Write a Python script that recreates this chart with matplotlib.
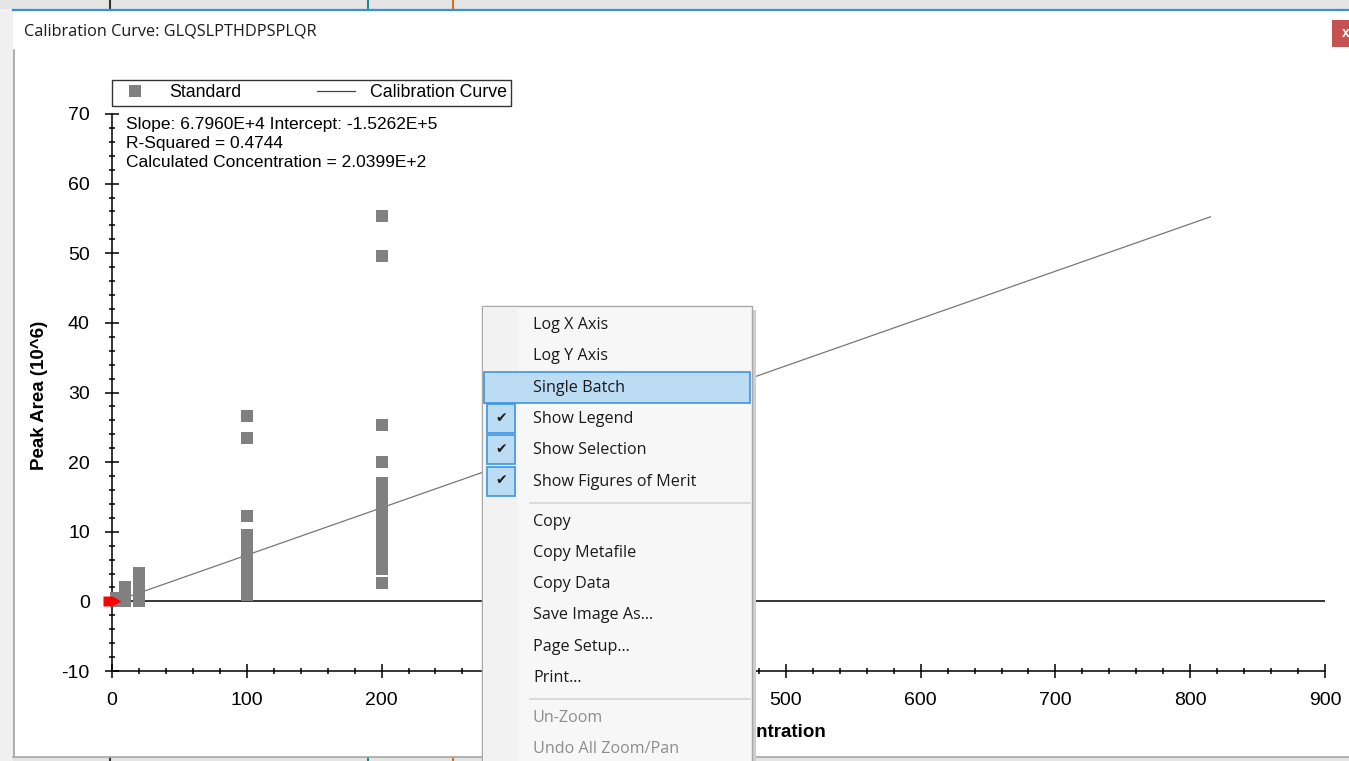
import numpy as np
import matplotlib.pyplot as plt
from matplotlib.patches import Rectangle
from matplotlib.ticker import MultipleLocator

plt.rcParams['font.family'] = ['Liberation Sans', 'DejaVu Sans']
plt.rcParams['axes.unicode_minus'] = False

W, H = 1349, 761

# standard levels and the replicate peak areas measured at each (x10^6)
levels = [3, 10, 20, 100, 200]
areas_3 = [0.1, 0.5]
areas_10 = [0.1, 0.8, 1.5, 2.1]
areas_20 = [0.0, 0.8, 1.6, 2.4, 3.3, 4.1]
areas_100 = [26.6, 23.5, 12.2, 9.6, 8.7, 7.8, 6.9, 6.0, 5.2, 4.3, 3.5, 2.6, 1.7, 0.9]
areas_200 = [55.3, 49.6, 25.4, 20.0, 17.0, 16.1, 15.2, 14.3, 13.4, 12.5, 11.6,
             10.7, 9.8, 8.9, 8.0, 7.1, 6.3, 5.5, 4.7, 2.6]
level_areas = [areas_3, areas_10, areas_20, areas_100, areas_200]

# regression results
slope = 6.7960e4
intercept = -1.5262e5
r_squared = 0.4744
calc_conc = 2.0399e2
fit_range = [3, 815]
selection = [0, 0]

title = 'Calibration Curve: GLQSLPTHDPSPLQR'
menu_items = ['Log X Axis', 'Log Y Axis', 'Single Batch', 'Show Legend',
              'Show Selection', 'Show Figures of Merit', 'Copy', 'Copy Metafile',
              'Copy Data', 'Save Image As...', 'Page Setup...', 'Print...',
              'Un-Zoom', 'Undo All Zoom/Pan']
menu_checked = ['Show Legend', 'Show Selection', 'Show Figures of Merit']
menu_disabled = ['Un-Zoom', 'Undo All Zoom/Pan']
menu_hot = 'Single Batch'
menu_breaks = ['Show Figures of Merit', 'Print...']


def sci(v):
    m, e = f'{v:.4E}'.split('E')
    return f'{m}E{int(e):+d}'


fig = plt.figure(figsize=(W / 100, H / 100), dpi=100, facecolor='white')

# window chrome behind the plot, in pixel units
bg = fig.add_axes([0, 0, 1, 1], zorder=0)
bg.set_xlim(0, W)
bg.set_ylim(H, 0)
bg.axis('off')
bg.add_patch(Rectangle((0, 0), W, 9, color='#e4e4e4', lw=0))
bg.add_patch(Rectangle((0, 757), W, 4, color='#e4e4e4', lw=0))
bg.add_patch(Rectangle((0, 9), 13, H, color='#f0f0f0', lw=0))
for xm, c in [(110, '#333333'), (368, '#1a8a8a'), (453, '#d07020')]:
    bg.plot([xm, xm], [0, 8], color=c, lw=1.5)
    bg.plot([xm, xm], [758, 761], color=c, lw=1.5)
bg.plot([13, W], [9.5, 9.5], color='#3a8fd8', lw=1.6)
bg.plot([13.5, 13.5], [50, 757], color='#a0a0a0', lw=1.2)
bg.plot([13, W], [757, 757], color='#a8a8a8', lw=1.2)
bg.text(24, 32, title, fontsize=11.7, family='Open Sans', color='#1a1a1a',
        ha='left', va='center')
bg.add_patch(Rectangle((1332, 20), 20, 27, color='#c75050', lw=0))
bg.text(1346, 33, 'x', fontsize=10, color='white', ha='center', va='center',
        fontweight='bold')

# calibration plot
ax = fig.add_axes([112 / W, (H - 671) / H, 1213 / W, 557 / H], zorder=1)
ax.patch.set_alpha(0)
ax.set_xlim(0, 900)
ax.set_ylim(-10, 70)
for side in ['top', 'right']:
    ax.spines[side].set_visible(False)
for side in ['left', 'bottom']:
    ax.spines[side].set_linewidth(1.1)
ax.xaxis.set_major_locator(MultipleLocator(100))
ax.xaxis.set_minor_locator(MultipleLocator(20))
ax.yaxis.set_major_locator(MultipleLocator(10))
ax.yaxis.set_minor_locator(MultipleLocator(2))
ax.tick_params(which='major', direction='inout', length=10, width=1.1, labelsize=14)
ax.tick_params(which='minor', direction='inout', length=5, width=1.1)
ax.tick_params(axis='x', which='major', pad=10)
ax.tick_params(axis='y', which='major', pad=11)

ax.axhline(0, color='black', lw=1.1, zorder=1)

fx = np.array(fit_range, dtype=float)
ax.plot(fx, (slope * fx + intercept) / 1e6, color='#777777', lw=0.9, zorder=2,
        label='Calibration Curve')

for i, (lvl, vals) in enumerate(zip(levels, level_areas)):
    ax.plot([lvl] * len(vals), vals, ls='none', marker='s', ms=8, mew=0,
            color='#808080', zorder=3, clip_on=False,
            label='Standard' if i == 0 else None)

arrow = [(-1, -0.55), (0, -0.55), (1, 0), (0, 0.55), (-1, 0.55)]
ax.plot(selection[0], selection[1], marker=arrow, ms=13, mew=0, color='#ff0000',
        zorder=4, clip_on=False)

handles, labels = ax.get_legend_handles_labels()
leg = ax.legend(handles[::-1], labels[::-1], ncol=2, loc='lower left',
                bbox_to_anchor=(0, 1.015), borderaxespad=0, fontsize=12.8,
                frameon=True, fancybox=False, edgecolor='black', borderpad=0.25,
                handlelength=2.1, handletextpad=0.85, columnspacing=4.3)
leg.get_frame().set_linewidth(1.0)
leg.legend_handles[1].set_color('#444444')

merit = (f'Slope: {sci(slope)} Intercept: {sci(intercept)}\n'
         f'R-Squared = {r_squared:.4f}\n'
         f'Calculated Concentration = {sci(calc_conc)}')
ax.text(14 / 1213, (671 - 117) / 557, merit, transform=ax.transAxes,
        fontsize=12.5, ha='left', va='top', linespacing=1.34)

ax.set_xlabel('Concentration', fontsize=13.5, fontweight='bold', ha='right')
ax.xaxis.set_label_coords((826 - 112) / 1213, (671 - 724) / 557)
fig.text(40 / W, 1 - 395 / H, 'Peak Area (10^6)', fontsize=13.5,
         fontweight='bold', rotation=90, ha='center', va='center')

# context menu drawn over the plot
mn = fig.add_axes([0, 0, 1, 1], zorder=2)
mn.set_xlim(0, W)
mn.set_ylim(H, 0)
mn.axis('off')
mn.add_patch(Rectangle((752, 310), 4, H, color='#cfcfcf', lw=0))
mn.add_patch(Rectangle((482, 306), 270, H, facecolor='#f7f7f7',
                       edgecolor='#a8a8a8', lw=1))
mn.add_patch(Rectangle((483, 307), 35, H, color='#f2f2f2', lw=0))

y = 325
for item in menu_items:
    if item == menu_hot:
        mn.add_patch(Rectangle((484, y - 16), 266, 31, facecolor='#bcdcf4',
                               edgecolor='#3d95e0', lw=1.2))
    if item in menu_checked:
        mn.add_patch(Rectangle((487, y - 15), 28, 29, facecolor='#bcdcf4',
                               edgecolor='#3d95e0', lw=1.2))
        mn.text(501, y - 1, '\u2714', fontsize=10, family='DejaVu Sans',
                color='#1a1a1a', ha='center', va='center')
    color = '#8d8d8d' if item in menu_disabled else '#1a1a1a'
    mn.text(533, y, item, fontsize=11.6, family='Open Sans', color=color,
            ha='left', va='center')
    y += 31.3
    if item in menu_breaks:
        mn.plot([530, 750], [y - 10, y - 10], color='#d5d5d5', lw=1.2)
        y += 8.7

fig.savefig('out.png', dpi=100, facecolor='white')
